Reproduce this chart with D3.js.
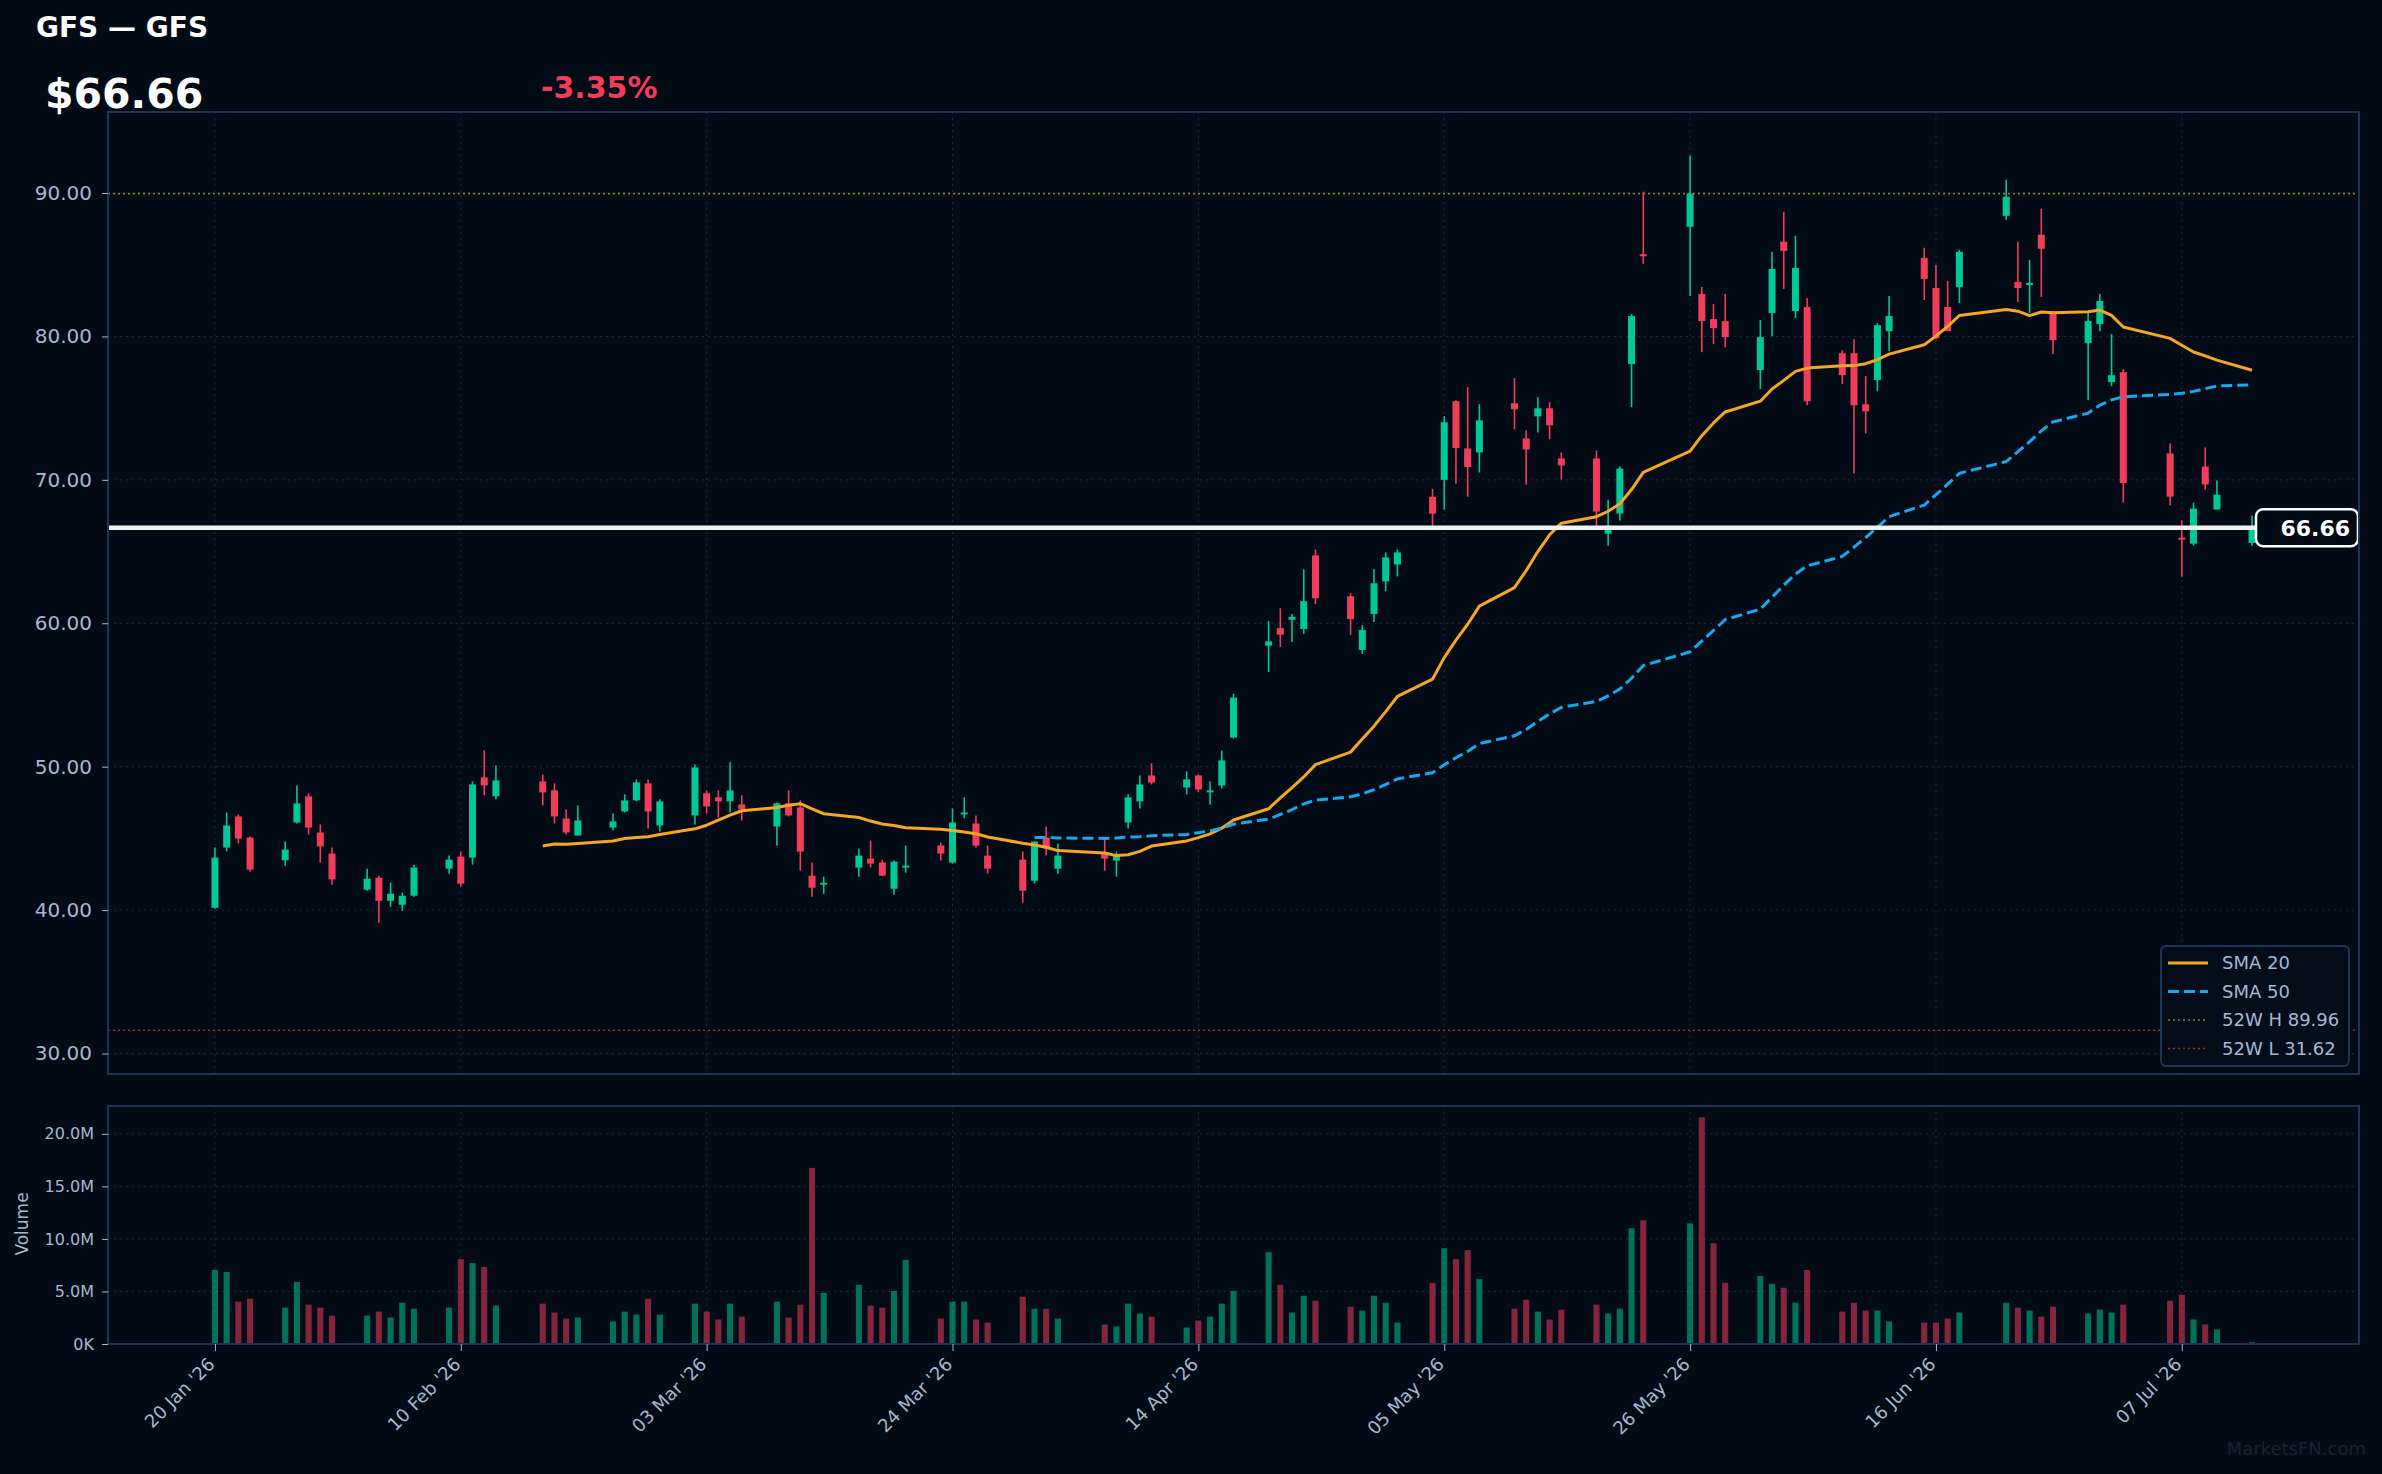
<!DOCTYPE html>
<html>
<head>
<meta charset="utf-8">
<script src="https://cdn.jsdelivr.net/npm/d3@7"></script>
<style>
  body { margin: 0; background: #020b16; }
  svg { display: block; font-family: "DejaVu Sans", sans-serif; }
</style>
</head>
<body>
<div id="chart"></div>
<script>
// ---- data ----
const ticker = "GFS";
const lastPrice = 66.66;
const changePct = -3.35;
const high52 = 89.96;
const low52 = 31.62;

const dates = [
  "2026-01-20","2026-01-21","2026-01-22","2026-01-23","2026-01-26","2026-01-27","2026-01-28","2026-01-29","2026-01-30",
  "2026-02-02","2026-02-03","2026-02-04","2026-02-05","2026-02-06","2026-02-09","2026-02-10","2026-02-11","2026-02-12","2026-02-13",
  "2026-02-17","2026-02-18","2026-02-19","2026-02-20","2026-02-23","2026-02-24","2026-02-25","2026-02-26","2026-02-27",
  "2026-03-02","2026-03-03","2026-03-04","2026-03-05","2026-03-06","2026-03-09","2026-03-10","2026-03-11","2026-03-12","2026-03-13",
  "2026-03-16","2026-03-17","2026-03-18","2026-03-19","2026-03-20","2026-03-23","2026-03-24","2026-03-25","2026-03-26","2026-03-27",
  "2026-03-30","2026-03-31","2026-04-01","2026-04-02","2026-04-06","2026-04-07","2026-04-08","2026-04-09","2026-04-10",
  "2026-04-13","2026-04-14","2026-04-15","2026-04-16","2026-04-17","2026-04-20","2026-04-21","2026-04-22","2026-04-23","2026-04-24",
  "2026-04-27","2026-04-28","2026-04-29","2026-04-30","2026-05-01","2026-05-04","2026-05-05","2026-05-06","2026-05-07","2026-05-08",
  "2026-05-11","2026-05-12","2026-05-13","2026-05-14","2026-05-15","2026-05-18","2026-05-19","2026-05-20","2026-05-21","2026-05-22",
  "2026-05-26","2026-05-27","2026-05-28","2026-05-29","2026-06-01","2026-06-02","2026-06-03","2026-06-04","2026-06-05",
  "2026-06-08","2026-06-09","2026-06-10","2026-06-11","2026-06-12","2026-06-15","2026-06-16","2026-06-17","2026-06-18",
  "2026-06-22","2026-06-23","2026-06-24","2026-06-25","2026-06-26","2026-06-29","2026-06-30","2026-07-01","2026-07-02",
  "2026-07-06","2026-07-07","2026-07-08","2026-07-09","2026-07-10","2026-07-13"
];
const opens = [
  40.16,44.36,46.53,45.06,43.47,46.11,47.93,45.41,43.94,
  41.42,42.26,40.65,40.37,41.00,42.89,43.73,43.66,49.25,47.93,
  48.97,48.35,46.39,45.20,45.76,46.88,47.65,48.83,45.90,
  46.60,48.14,47.86,47.58,47.37,45.83,47.44,47.16,42.40,41.77,
  42.96,43.59,43.31,41.49,43.03,44.50,43.31,46.67,46.04,43.80,
  43.52,42.05,45.06,42.89,43.94,43.45,46.11,47.58,49.39,
  48.55,49.39,48.28,48.69,52.03,58.44,59.66,60.24,59.60,64.73,
  61.88,58.14,60.64,62.92,64.10,68.82,70.00,75.48,72.19,71.91,
  75.34,72.89,74.43,74.99,71.49,71.49,66.25,67.65,78.07,85.73,
  87.65,82.96,81.21,81.07,77.65,81.63,86.60,81.77,82.05,
  78.83,78.83,75.27,76.95,80.37,85.48,83.38,82.05,83.45,
  88.41,83.80,83.59,87.09,81.70,79.53,80.86,76.81,77.51,
  71.84,65.97,65.55,70.93,67.93,65.60
];
const highs = [
  44.36,46.81,46.67,45.13,44.78,48.69,48.14,45.97,44.36,
  42.89,42.40,41.91,41.21,43.17,43.80,44.08,48.97,51.14,50.09,
  49.46,48.83,47.02,47.30,46.74,48.07,49.11,49.11,47.72,
  50.16,48.35,48.35,50.30,48.00,47.51,48.35,47.65,43.31,42.33,
  44.29,44.85,43.52,43.45,44.50,44.71,47.09,47.86,46.60,44.50,
  44.08,44.78,45.83,44.64,44.92,44.08,48.07,49.39,50.23,
  49.67,49.46,48.97,51.14,55.09,60.15,61.05,60.64,63.76,65.14,
  62.09,59.87,63.76,64.94,65.14,69.38,74.44,75.55,76.46,75.27,
  77.09,73.45,75.76,75.41,71.91,72.05,68.62,70.93,81.56,90.09,
  92.60,83.45,82.26,82.96,81.14,85.90,88.69,87.02,82.68,
  79.04,79.81,77.23,80.93,82.82,86.18,84.99,83.87,86.04,
  90.93,86.60,85.34,88.90,81.77,81.70,82.96,80.16,77.72,
  72.54,67.16,68.41,72.26,69.95,67.50
];
const lows = [
  40.09,44.10,44.64,42.68,43.10,46.04,45.27,43.31,41.77,
  41.35,39.11,40.23,39.95,40.93,42.54,41.63,43.17,48.00,47.72,
  47.30,46.04,45.27,45.20,45.55,46.81,47.58,45.69,45.48,
  45.97,46.74,46.46,46.81,46.25,44.50,46.53,42.75,40.93,41.14,
  42.33,42.96,42.40,41.07,42.61,43.45,43.24,46.39,44.36,42.54,
  40.51,41.84,43.80,42.54,42.75,42.33,45.69,47.09,48.76,
  48.07,48.21,47.37,48.48,51.97,56.61,58.35,58.69,59.25,61.33,
  59.18,57.86,60.08,62.23,63.27,66.76,67.92,69.72,68.83,70.51,
  73.52,69.67,73.31,72.82,70.02,66.53,65.41,67.16,75.06,85.06,
  82.82,78.90,79.46,79.25,76.32,80.02,83.31,81.28,75.20,
  76.67,70.44,73.24,76.18,78.97,82.54,79.81,80.37,82.33,
  88.14,82.40,81.63,82.75,78.76,75.55,80.37,76.53,68.41,
  68.21,63.24,65.41,69.32,67.93,65.40
];
const closes = [
  43.66,45.90,44.99,42.82,44.22,47.44,45.76,44.45,42.14,
  42.19,40.65,41.14,41.00,42.96,43.52,41.84,48.76,48.69,49.04,
  48.21,46.53,45.41,46.25,46.18,47.65,48.90,46.88,47.58,
  49.95,47.23,47.58,48.35,47.02,47.44,46.60,44.08,41.56,41.91,
  43.80,43.24,42.40,43.38,43.10,43.94,46.11,46.81,44.50,42.89,
  41.35,44.78,44.29,43.80,43.59,43.87,47.86,48.76,48.90,
  49.11,48.41,48.35,50.44,54.81,58.74,59.20,60.45,61.54,61.75,
  60.29,59.53,62.79,64.59,64.94,67.64,74.02,72.22,70.89,74.15,
  74.92,72.12,74.99,73.80,71.00,67.79,66.80,70.79,81.42,85.64,
  89.96,81.07,80.58,79.95,79.95,84.71,85.97,84.78,75.48,
  77.30,75.20,74.78,80.79,81.42,84.01,79.88,80.37,85.90,
  89.74,83.38,83.73,86.11,79.74,81.07,82.47,77.30,69.77,
  68.83,65.83,67.99,69.67,68.97,66.66
];
// volume in millions of shares
const volumesM = [
  7.04,6.86,4.03,4.31,3.46,5.91,3.74,3.46,2.70,
  2.70,3.08,2.52,3.93,3.36,3.46,8.08,7.70,7.33,3.65,
  3.84,2.99,2.42,2.52,2.14,3.08,2.80,4.31,2.80,
  3.84,3.08,2.33,3.84,2.61,4.03,2.52,3.74,16.76,4.87,
  5.63,3.65,3.46,5.06,7.99,2.42,4.03,4.03,2.33,2.04,
  4.50,3.36,3.36,2.42,1.86,1.67,3.84,2.89,2.61,
  1.57,2.23,2.61,3.84,5.06,8.74,5.63,2.99,4.59,4.12,
  3.55,3.18,4.59,3.93,2.04,5.82,9.12,8.08,8.93,6.19,
  3.36,4.21,3.08,2.33,3.27,3.74,2.89,3.36,11.01,11.76,
  11.48,21.57,9.59,5.82,6.48,5.72,5.35,3.93,7.04,
  3.08,3.93,3.18,3.18,2.14,2.04,2.04,2.42,2.99,
  3.93,3.46,3.18,2.61,3.55,2.89,3.27,2.99,3.74,
  4.12,4.69,2.33,1.86,1.38,0.16
];
const xTickDates = ["2026-01-20","2026-02-10","2026-03-03","2026-03-24","2026-04-14","2026-05-05","2026-05-26","2026-06-16","2026-07-07"];
const yTicks = [30, 40, 50, 60, 70, 80, 90];
const volTicks = [0, 5, 10, 15, 20];

// ---- look ----
const bg = "#020b16", border = "#1d3553", gridColor = "#1a2a40", labelColor = "#a6b8d0";
const upColor = "#00c896", downColor = "#f23c5c";
const sma20Color = "#f5a623", sma50Color = "#16a9ee";
const hiColor = "#8f7d1f", loColor = "#8f3b2b";

const W = 2382, H = 1474;
const plot = {left: 108, right: 2359, top: 112, bottom: 1074};
const volPanel = {top: 1106, bottom: 1344};

const parseDate = d3.timeParse("%Y-%m-%d");
const data = dates.map(function (d, i) {
  return {date: parseDate(d), open: opens[i], high: highs[i], low: lows[i], close: closes[i], volume: volumesM[i]};
});
const xTicks = xTickDates.map(parseDate);

function sma(n) {
  return data.map(function (d, i) {
    return {date: d.date, v: i < n - 1 ? null : d3.mean(closes.slice(i - n + 1, i + 1))};
  });
}

const svg = d3.select("#chart")
  .append("svg")
    .attr("width", W)
    .attr("height", H);
svg.append("rect").attr("width", W).attr("height", H).attr("fill", bg);

// scales
const first = data[0].date, last = data[data.length - 1].date;
const xPad = (last - first) * 0.0525;
const x = d3.scaleTime()
  .domain([new Date(+first - xPad), new Date(+last + xPad)])
  .range([plot.left, plot.right]);
const maxHigh = d3.max(highs);
const yPad = (maxHigh - low52) * 0.05;
const y = d3.scaleLinear()
  .domain([low52 - yPad, maxHigh + yPad])
  .range([plot.bottom, plot.top]);
const yv = d3.scaleLinear()
  .domain([0, d3.max(volumesM) * 1.05])
  .range([volPanel.bottom, volPanel.top]);

const dayPx = x(d3.timeDay.offset(first, 1)) - x(first);
const bodyW = dayPx * 0.6;
const volW = dayPx * 0.52;
const colorOf = d => d.close >= d.open ? upColor : downColor;

// panels
svg.append("rect")
  .attr("x", plot.left).attr("y", plot.top)
  .attr("width", plot.right - plot.left).attr("height", plot.bottom - plot.top)
  .attr("fill", bg);
svg.append("rect")
  .attr("x", plot.left).attr("y", volPanel.top)
  .attr("width", plot.right - plot.left).attr("height", volPanel.bottom - volPanel.top)
  .attr("fill", bg);

// grid
const grid = svg.append("g")
  .attr("stroke", gridColor)
  .attr("stroke-width", 1)
  .attr("stroke-dasharray", "2,4");
[[plot.top, plot.bottom], [volPanel.top, volPanel.bottom]].forEach(function (span) {
  grid.append("g").selectAll("line").data(xTicks).join("line")
    .attr("x1", d => x(d)).attr("x2", d => x(d))
    .attr("y1", span[0]).attr("y2", span[1]);
});
grid.append("g").selectAll("line").data(yTicks).join("line")
  .attr("x1", plot.left).attr("x2", plot.right)
  .attr("y1", d => y(d)).attr("y2", d => y(d));
grid.append("g").selectAll("line").data(volTicks).join("line")
  .attr("x1", plot.left).attr("x2", plot.right)
  .attr("y1", d => yv(d)).attr("y2", d => yv(d));

// 52 week levels
svg.append("line")
  .attr("x1", plot.left).attr("x2", plot.right)
  .attr("y1", y(high52)).attr("y2", y(high52))
  .attr("stroke", hiColor).attr("stroke-width", 1.6).attr("stroke-dasharray", "2,3");
svg.append("line")
  .attr("x1", plot.left).attr("x2", plot.right)
  .attr("y1", y(low52)).attr("y2", y(low52))
  .attr("stroke", loColor).attr("stroke-width", 1.6).attr("stroke-dasharray", "2,3");

// volume bars
svg.append("g").selectAll("rect").data(data).join("rect")
  .attr("x", d => x(d.date) - volW / 2)
  .attr("y", d => yv(d.volume))
  .attr("width", volW)
  .attr("height", d => yv(0) - yv(d.volume))
  .attr("fill", colorOf)
  .attr("fill-opacity", 0.55);

// candles
const candle = svg.append("g").selectAll("g").data(data).join("g");
candle.append("line")
  .attr("x1", d => x(d.date)).attr("x2", d => x(d.date))
  .attr("y1", d => y(d.high)).attr("y2", d => y(d.low))
  .attr("stroke", colorOf)
  .attr("stroke-width", 1.6);
candle.append("rect")
  .attr("x", d => x(d.date) - bodyW / 2)
  .attr("y", d => y(Math.max(d.open, d.close)))
  .attr("width", bodyW)
  .attr("height", d => Math.max(2, Math.abs(y(d.open) - y(d.close))))
  .attr("fill", colorOf);

// moving averages
const line = d3.line()
  .defined(d => d.v != null)
  .x(d => x(d.date))
  .y(d => y(d.v));
svg.append("path")
  .datum(sma(20))
  .attr("fill", "none")
  .attr("stroke", sma20Color)
  .attr("stroke-width", 3)
  .attr("stroke-linejoin", "round")
  .attr("d", line);
svg.append("path")
  .datum(sma(50))
  .attr("fill", "none")
  .attr("stroke", sma50Color)
  .attr("stroke-width", 3)
  .attr("stroke-dasharray", "11,5")
  .attr("d", line);

// last price line + tag
const boxW = 102, boxH = 37;
svg.append("line")
  .attr("x1", plot.left).attr("x2", plot.right - boxW)
  .attr("y1", y(lastPrice)).attr("y2", y(lastPrice))
  .attr("stroke", "#f2f2f2")
  .attr("stroke-width", 4.5);
svg.append("rect")
  .attr("x", plot.right - boxW - 1).attr("y", y(lastPrice) - boxH / 2)
  .attr("width", boxW).attr("height", boxH)
  .attr("rx", 7)
  .attr("fill", bg)
  .attr("stroke", "#ffffff")
  .attr("stroke-width", 2.5);
svg.append("text")
  .attr("x", plot.right - 9).attr("y", y(lastPrice))
  .attr("dy", "0.36em")
  .attr("text-anchor", "end")
  .attr("fill", "#ffffff")
  .attr("font-size", 22)
  .attr("font-weight", "bold")
  .text(lastPrice.toFixed(2));

// panel borders
[[plot.top, plot.bottom], [volPanel.top, volPanel.bottom]].forEach(function (span) {
  svg.append("rect")
    .attr("x", plot.left).attr("y", span[0])
    .attr("width", plot.right - plot.left).attr("height", span[1] - span[0])
    .attr("fill", "none")
    .attr("stroke", border)
    .attr("stroke-width", 2);
});

// axes
function styleAxis(g, size) {
  g.select(".domain").remove();
  g.selectAll(".tick line").attr("stroke", labelColor);
  g.selectAll(".tick text").attr("fill", labelColor).attr("font-size", size).attr("font-family", "DejaVu Sans");
}
svg.append("g")
  .attr("transform", `translate(${plot.left},0)`)
  .call(d3.axisLeft(y).tickValues(yTicks).tickFormat(d3.format(".2f")).tickSize(6).tickPadding(10))
  .call(g => styleAxis(g, 20));
svg.append("g")
  .attr("transform", `translate(${plot.left},0)`)
  .call(d3.axisLeft(yv).tickValues(volTicks).tickFormat(v => v === 0 ? "0K" : v.toFixed(1) + "M").tickSize(6).tickPadding(8))
  .call(g => styleAxis(g, 16));
svg.append("g")
  .attr("transform", `translate(0,${volPanel.bottom})`)
  .call(d3.axisBottom(x).tickValues(xTicks).tickFormat(d3.timeFormat("%d %b '%y")).tickSize(7))
  .call(g => styleAxis(g, 18))
  .call(g => g.selectAll(".tick text")
    .attr("text-anchor", "end")
    .attr("x", 0).attr("y", 0).attr("dy", "0.35em")
    .attr("transform", "translate(-4,17) rotate(-45)"));

svg.append("text")
  .attr("transform", "translate(28,1224) rotate(-90)")
  .attr("text-anchor", "middle")
  .attr("fill", labelColor)
  .attr("font-size", 17)
  .text("Volume");

// legend
const legend = svg.append("g").attr("transform", "translate(2161,946)");
legend.append("rect")
  .attr("width", 188).attr("height", 120).attr("rx", 5)
  .attr("fill", "#040e1b").attr("stroke", border).attr("stroke-width", 2);
const legendItems = [
  {label: "SMA 20", color: sma20Color, dash: null, width: 3},
  {label: "SMA 50", color: sma50Color, dash: "11,5", width: 3},
  {label: "52W H " + high52.toFixed(2), color: hiColor, dash: "2,3", width: 1.6},
  {label: "52W L " + low52.toFixed(2), color: loColor, dash: "2,3", width: 1.6}
];
const row = legend.selectAll(".row").data(legendItems).join("g")
  .attr("transform", (d, i) => `translate(0,${17 + i * 28.5})`);
row.append("line")
  .attr("x1", 7).attr("x2", 47)
  .attr("stroke", d => d.color)
  .attr("stroke-width", d => d.width)
  .attr("stroke-dasharray", d => d.dash);
row.append("text")
  .attr("x", 61).attr("dy", "0.35em")
  .attr("fill", labelColor)
  .attr("font-size", 18)
  .text(d => d.label);

// header
svg.append("text")
  .attr("x", 36).attr("y", 37)
  .attr("fill", "#ffffff").attr("font-size", 28).attr("font-weight", "bold")
  .text(ticker + " \u2014 " + ticker);
svg.append("text")
  .attr("x", 45).attr("y", 108)
  .attr("fill", "#ffffff").attr("font-size", 41).attr("font-weight", "bold")
  .text("$" + lastPrice.toFixed(2));
svg.append("text")
  .attr("x", 541).attr("y", 98)
  .attr("fill", changePct < 0 ? downColor : upColor).attr("font-size", 30).attr("font-weight", "bold")
  .text(changePct.toFixed(2) + "%");

svg.append("text")
  .attr("x", 2366).attr("y", 1455)
  .attr("text-anchor", "end")
  .attr("fill", "#172333")
  .attr("font-size", 18)
  .text("MarketsFN.com");
</script>
</body>
</html>
